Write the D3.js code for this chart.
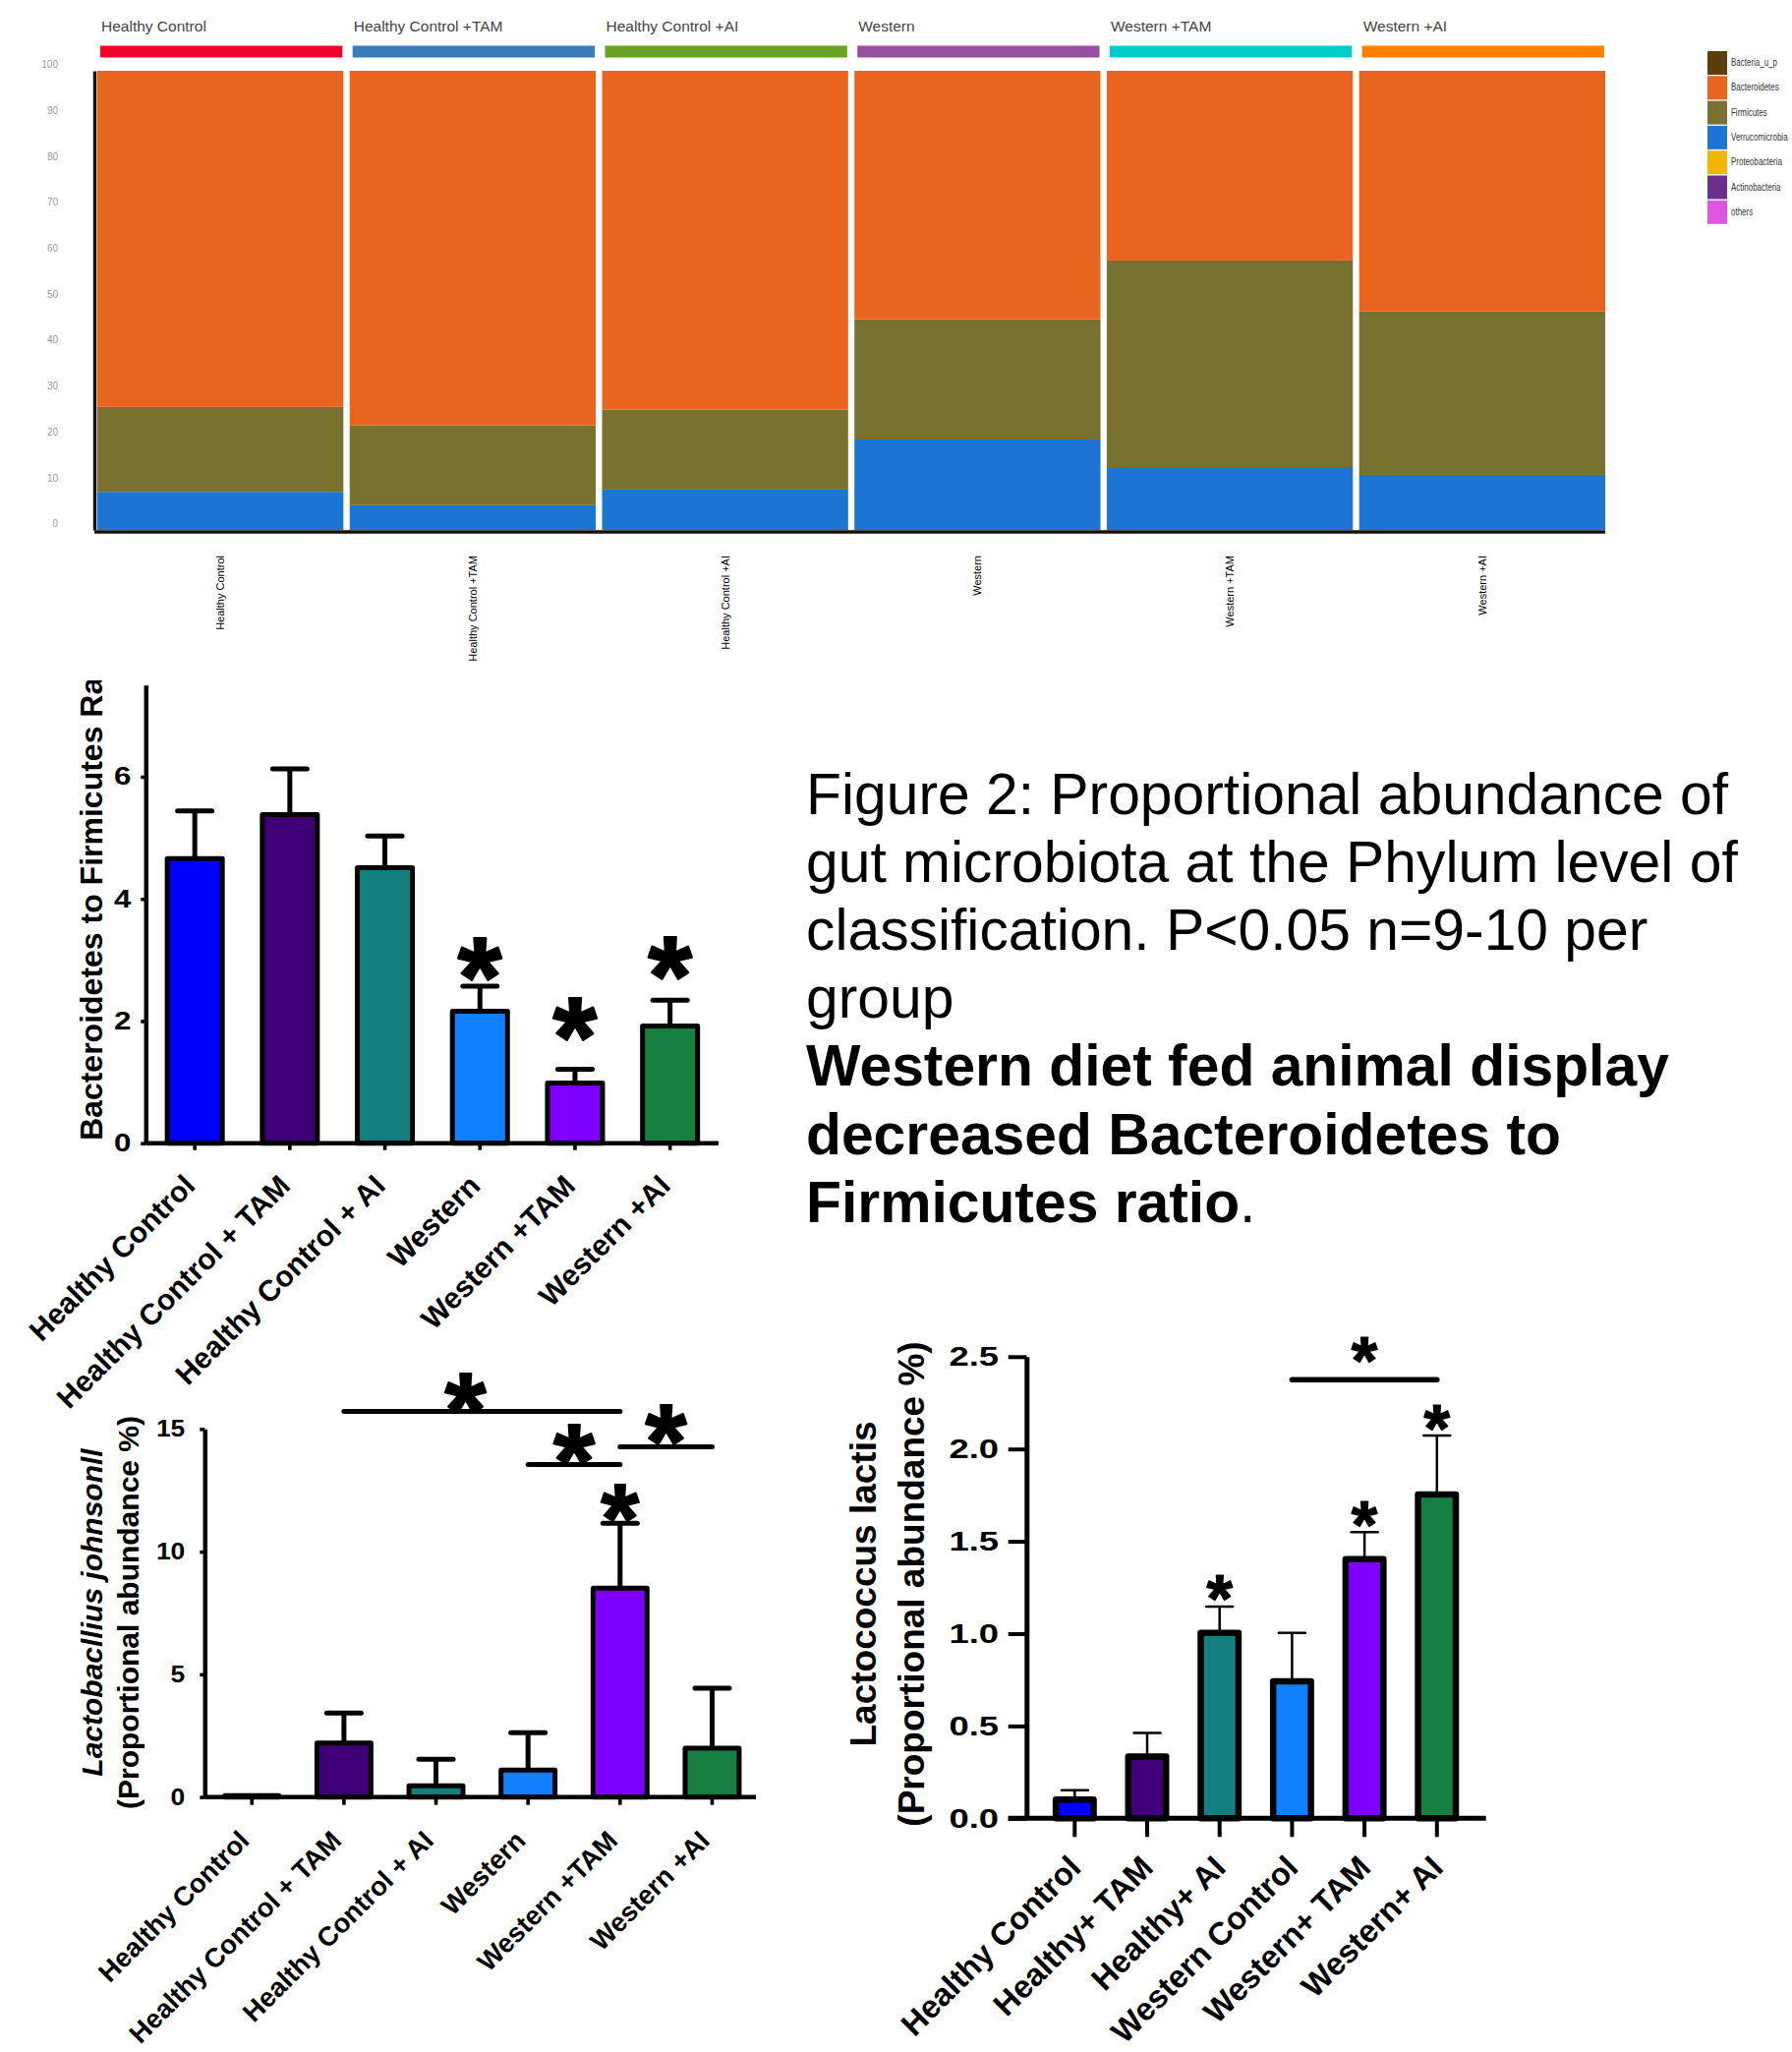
<html>
<head>
<meta charset='utf-8' />
<title>Figure 2: gut microbiota</title>
<script src="https://d3js.org/d3.v7.min.js"></script>
<style>
body { margin: 0; background: #fff; }
text { font-family: "Liberation Sans", Arial, sans-serif; }
</style>
</head>
<body>
<script>

// ---------- data : phylum level (stacked %, bottom to top)
var topGroups = ["Healthy Control", "Healthy Control +TAM", "Healthy Control +AI", "Western", "Western +TAM", "Western +AI"];
var topGroupColors = ["#f0052d", "#3b7bb8", "#66a224", "#974fa2", "#00cccc", "#ff7f00"];
var phyla = ["Bacteria_u_p", "Bacteroidetes", "Firmicutes", "Verrucomicrobia", "Proteobacteria", "Actinobacteria", "others"];
var phylaColors = ["#5c3d0c", "#e8641f", "#78712f", "#1c75d2", "#f2b600", "#6b2f8e", "#e055e0"];
var verrucoPct = [8.3, 5.4, 8.8, 19.7, 13.7, 12.0];
var firmicutesPct = [18.5, 17.4, 17.4, 26.2, 45.0, 35.6];
var bacteroidetesPct = [73.2, 77.2, 73.8, 54.1, 41.3, 52.4];
var topTicks = [0, 10, 20, 30, 40, 50, 60, 70, 80, 90, 100];

// ---------- data : Bacteroidetes / Firmicutes ratio
var ratioGroups = ["Healthy Control", "Healthy Control + TAM", "Healthy Control + AI", "Western", "Western +TAM", "Western +AI"];
var ratioMean = [4.66, 5.38, 4.51, 2.16, 0.985, 1.92];
var ratioUpper = [5.44, 6.13, 5.03, 2.57, 1.21, 2.34];   // mean + SEM
var ratioStars = [null, null, null, 3.07, 2.08, 3.08];
var ratioTicks = [0, 2, 4, 6];

// ---------- data : Lactobacillus johnsonii
var johnGroups = ["Healthy Control", "Healthy Control + TAM", "Healthy Control + AI", "Western", "Western +TAM", "Western +AI"];
var johnMean = [0.06, 2.2, 0.46, 1.1, 8.51, 1.99];
var johnUpper = [null, 3.42, 1.54, 2.62, 11.16, 4.44];
var johnStars = [null, null, null, null, 12.07, null];
var johnSig = [
	{from: 1, to: 4, y: 15.71, star: 16.58, at: 0.44},
	{from: 3, to: 4, y: 13.55, star: 14.5, at: 0.5},
	{from: 4, to: 5, y: 14.27, star: 15.32, at: 0.5}
];
var johnTicks = [0, 5, 10, 15];

// ---------- data : Lactococcus lactis
var lactGroups = ["Healthy Control", "Healthy+ TAM", "Healthy+ AI", "Western Control", "Western+ TAM", "Western+ AI"];
var lactMean = [0.102, 0.335, 1.004, 0.742, 1.404, 1.753];
var lactUpper = [0.152, 0.462, 1.146, 1.004, 1.55, 2.073];
var lactStars = [null, null, 1.26, null, 1.66, 2.18];
var lactSig = [{from: 3, to: 5, y: 2.375, star: 2.545, at: 0.5}];
var lactTicks = [0, 0.5, 1.0, 1.5, 2.0, 2.5];

var barColors = ["#0000ff", "#3f0078", "#13807f", "#1180ff", "#8000ff", "#178040"];

var captionLines = ["Figure 2: Proportional abundance of", "gut microbiota at the Phylum level of", "classification. P<0.05 n=9-10 per", "group"];
var captionBold = ["Western diet fed animal display", "decreased Bacteroidetes to", "Firmicutes ratio"];


var svg = d3.select("body").append("svg")
	.attr("width", 1823)
	.attr("height", 2087);

svg.append("rect").attr("width", 1823).attr("height", 2087).attr("fill", "#fff");

// ===================== stacked phylum chart =====================
var xTop = d3.scaleBand().domain(topGroups).range([99, 1633]).paddingInner(0.025);
var yTop = d3.scaleLinear().domain([0, 100]).range([539, 72]);

var topRows = topGroups.map(function(g, i) {
	var r = {group: g};
	phyla.forEach(function(p) { r[p] = 0; });
	r["Verrucomicrobia"] = verrucoPct[i];
	r["Firmicutes"] = firmicutesPct[i];
	r["Bacteroidetes"] = bacteroidetesPct[i];
	return r;
});
var stackOrder = ["Verrucomicrobia", "Firmicutes", "Bacteroidetes", "Proteobacteria", "Actinobacteria", "Bacteria_u_p", "others"];
var stacked = d3.stack().keys(stackOrder)(topRows);

var phylumChart = svg.append("g");
phylumChart.selectAll("g.layer").data(stacked).join("g")
	.attr("fill", function(d) { return phylaColors[phyla.indexOf(d.key)]; })
	.selectAll("rect").data(function(d) { return d; }).join("rect")
	.attr("x", function(d) { return xTop(d.data.group); })
	.attr("width", xTop.bandwidth())
	.attr("y", function(d) { return yTop(d[1]); })
	.attr("height", function(d) { return yTop(d[0]) - yTop(d[1]); });

// group header strips
phylumChart.selectAll("rect.head").data(topGroups).join("rect")
	.attr("class", "head")
	.attr("x", function(d) { return xTop(d) + 3; })
	.attr("width", xTop.bandwidth() - 4)
	.attr("y", 46.5)
	.attr("height", 12)
	.attr("fill", function(d, i) { return topGroupColors[i]; });
phylumChart.selectAll("text.head").data(topGroups).join("text")
	.attr("class", "head")
	.attr("x", function(d) { return xTop(d) + 4; })
	.attr("y", 32)
	.attr("font-size", 15.5)
	.attr("fill", "#444")
	.text(function(d) { return d; });

var topY = phylumChart.append("g").attr("transform", "translate(96,0)")
	.call(d3.axisLeft(yTop).tickValues(topTicks).tickSize(0).tickPadding(37).tickSizeOuter(0));
topY.attr("font-family", null).attr("font-size", null);
topY.select(".domain").attr("stroke", "#111").attr("stroke-width", 3.5);
topY.selectAll("text").attr("font-size", 10).attr("fill", "#999").attr("dy", -3.3);

var topX = phylumChart.append("g").attr("transform", "translate(0,541)")
	.call(d3.axisBottom(xTop).tickSize(0).tickSizeOuter(0));
topX.attr("font-family", null).attr("font-size", null);
topX.select(".domain").attr("stroke", "#111").attr("stroke-width", 3.5).attr("d", "M96,0H1633");
topX.selectAll("text")
	.attr("font-family", "'Liberation Serif', serif")
	.attr("font-size", 11)
	.attr("fill", "#000")
	.attr("text-anchor", "end")
	.attr("y", 0).attr("dy", 0)
	.attr("transform", "translate(4,24) rotate(-90)");

// legend (narrow type so the names stay inside the page)
var leg = svg.append("g");
leg.selectAll("rect").data(phyla).join("rect")
	.attr("x", 1737).attr("y", function(d, i) { return 52 + i * 25.3; })
	.attr("width", 20).attr("height", 24)
	.attr("fill", function(d, i) { return phylaColors[i]; });
leg.selectAll("text").data(phyla).join("text")
	.attr("transform", function(d, i) { return "translate(1761," + (52 + i * 25.3 + 15) + ") scale(0.76,1)"; })
	.attr("font-size", 10.5).attr("fill", "#333")
	.text(function(d) { return d; });


// ===================== bar panels =====================
function stretchText(sel, sx) {
	sel.each(function() {
		var t = d3.select(this);
		var xx = +t.attr("x") || 0;
		t.attr("x", null).attr("transform", "translate(" + xx + ",0) scale(" + sx + ",1)");
	});
}

function addStar(g, x, y, size) {
	g.append("text")
		.attr("x", x)
		.attr("y", y + size * 0.53)
		.attr("text-anchor", "middle").attr("font-weight", "bold").attr("font-size", size)
		.attr("stroke", "#000").attr("stroke-width", size * 0.018).attr("stroke-linejoin", "round")
		.text("*");
}

function barPanel(p) {
	var x = d3.scaleBand().domain(p.groups).range(p.xRange).paddingInner(p.padIn).paddingOuter(p.padOut);
	var y = d3.scaleLinear().domain([0, p.yMax]).range(p.yRange);
	var cx = function(i) { return x(p.groups[i]) + x.bandwidth() / 2; };
	var g = svg.append("g");

	// error bars (upper only)
	var eb = p.groups.map(function(d, i) { return i; }).filter(function(i) { return p.upper[i] != null; });
	g.selectAll("line.err").data(eb).join("line")
		.attr("x1", cx).attr("x2", cx)
		.attr("y1", function(i) { return y(p.mean[i]); })
		.attr("y2", function(i) { return y(p.upper[i]); })
		.attr("stroke", "#000").attr("stroke-width", p.errW);
	g.selectAll("line.cap").data(eb).join("line")
		.attr("x1", function(i) { return cx(i) - p.capW / 2; })
		.attr("x2", function(i) { return cx(i) + p.capW / 2; })
		.attr("y1", function(i) { return y(p.upper[i]); })
		.attr("y2", function(i) { return y(p.upper[i]); })
		.attr("stroke", "#000").attr("stroke-width", p.capStroke).attr("stroke-linecap", "round");

	// bars
	g.selectAll("rect").data(p.mean).join("rect")
		.attr("x", function(d, i) { return x(p.groups[i]) + p.barStroke / 2; })
		.attr("width", x.bandwidth() - p.barStroke)
		.attr("y", function(d) { return y(d); })
		.attr("height", function(d) { return y(0) - y(d); })
		.attr("fill", function(d, i) { return barColors[i]; })
		.attr("stroke", "#000").attr("stroke-width", p.barStroke).attr("stroke-linejoin", "round");

	// y axis
	var ay = g.append("g").attr("transform", "translate(" + p.xRange[0] + ",0)")
		.call(d3.axisLeft(y).tickValues(p.ticks).tickFormat(p.fmt).tickSize(p.yTick).tickPadding(p.tickPad).tickSizeOuter(0));
	ay.attr("font-family", null).attr("font-size", null);
	ay.select(".domain").attr("stroke", "#000").attr("stroke-width", p.axisW);
	ay.selectAll(".tick line").attr("stroke", "#000").attr("stroke-width", p.axisW * 0.8);
	ay.selectAll("text").attr("font-size", p.tickFont).attr("font-weight", "bold").attr("fill", "#000");
	stretchText(ay.selectAll("text"), p.tickSx);

	// x axis
	var ax = g.append("g").attr("transform", "translate(0," + y(0) + ")")
		.call(d3.axisBottom(x).tickSize(p.xTick).tickSizeOuter(0));
	ax.attr("font-family", null).attr("font-size", null);
	ax.select(".domain").attr("stroke", "#000").attr("stroke-width", p.axisW)
		.attr("d", "M" + (p.xRange[0] - p.axisExtend) + ",0H" + p.xEnd);
	ax.selectAll(".tick line").attr("stroke", "#000").attr("stroke-width", p.axisW * 0.8);
	ax.selectAll("text")
		.attr("font-size", p.labelFont).attr("font-weight", "bold").attr("fill", "#000")
		.attr("text-anchor", "end").attr("y", 0).attr("dy", 0)
		.attr("transform", "translate(" + p.labelOff[0] + "," + p.labelOff[1] + ") rotate(-45)");

	// stars above bars
	p.stars.forEach(function(s, i) {
		if (s != null) addStar(g, cx(i), y(s), p.starFont);
	});

	// significance brackets
	(p.sig || []).forEach(function(s) {
		var x1 = cx(s.from), x2 = cx(s.to);
		g.append("line").attr("x1", x1).attr("x2", x2).attr("y1", y(s.y)).attr("y2", y(s.y))
			.attr("stroke", "#000").attr("stroke-width", p.sigW).attr("stroke-linecap", "round");
		addStar(g, x1 + (x2 - x1) * s.at, y(s.star), p.sigStarFont || p.starFont);
	});
	return g;
}

// ---- ratio panel
barPanel({
	groups: ratioGroups, mean: ratioMean, upper: ratioUpper, stars: ratioStars,
	xRange: [148.3, 731.5], xEnd: 731, axisExtend: 0, padIn: 0.369, padOut: 0.2,
	yMax: 7.5, yRange: [1162.7, 696.8], ticks: ratioTicks, fmt: d3.format("d"),
	yTick: 5, xTick: 7, tickPad: 10, tickFont: 25, tickSx: 1.25, axisW: 4.5,
	barStroke: 5, errW: 5, capW: 35, capStroke: 5,
	labelFont: 30, labelOff: [2, 45], starFont: 115
});
svg.append("clipPath").attr("id", "ratioClip")
	.append("rect").attr("x", 0).attr("y", 692).attr("width", 400).attr("height", 600);
svg.append("g").attr("clip-path", "url(#ratioClip)")
	.append("text")
	.attr("transform", "translate(104,1160) rotate(-90)")
	.attr("font-size", 32).attr("font-weight", "bold")
	.text("Bacteroidetes to Firmicutes Ratio");

// ---- Lactobacillus johnsonii panel
barPanel({
	groups: johnGroups, mean: johnMean, upper: johnUpper, stars: johnStars, sig: johnSig,
	xRange: [208.3, 772.4], xEnd: 769, axisExtend: 0, padIn: 0.36, padOut: 0.192,
	yMax: 15, yRange: [1827.7, 1453.3], ticks: johnTicks, fmt: d3.format("d"),
	yTick: 5, xTick: 8, tickPad: 15, tickFont: 24, tickSx: 1.1, axisW: 4.5,
	barStroke: 5, errW: 5, capW: 35, capStroke: 5,
	labelFont: 27.3, labelOff: [-1, 46], starFont: 100, sigStarFont: 108, sigW: 5
});
svg.append("text")
	.attr("transform", "translate(104,1640) rotate(-90)")
	.attr("text-anchor", "middle").attr("font-size", 30).attr("font-weight", "bold").attr("font-style", "italic")
	.text("Lactobacllius johnsonll");
svg.append("text")
	.attr("transform", "translate(140.5,1640) rotate(-90)")
	.attr("text-anchor", "middle").attr("font-size", 30).attr("font-weight", "bold")
	.text("(Proportional abundance %)");

// ---- Lactococcus lactis panel
barPanel({
	groups: lactGroups, mean: lactMean, upper: lactUpper, stars: lactStars, sig: lactSig,
	xRange: [1044.3, 1510.8], xEnd: 1511.7, axisExtend: 18.6, padIn: 0.39, padOut: 0.36,
	yMax: 2.5, yRange: [1849.3, 1379.8], ticks: lactTicks, fmt: d3.format(".1f"),
	yTick: 18.6, xTick: 19, tickPad: 9.7, tickFont: 28, tickSx: 1.3, axisW: 5,
	barStroke: 6.5, errW: 2.5, capW: 27, capStroke: 2.5,
	labelFont: 32.5, labelOff: [8, 52], starFont: 68, sigW: 5.5
});
svg.append("text")
	.attr("transform", "translate(891,1611) rotate(-90)")
	.attr("text-anchor", "middle").attr("font-size", 37).attr("font-weight", "bold")
	.text("Lactococcus lactis");
svg.append("text")
	.attr("transform", "translate(940,1611) rotate(-90)")
	.attr("text-anchor", "middle").attr("font-size", 37).attr("font-weight", "bold")
	.text("(Proportional abundance %)");

// ===================== caption =====================
var cap = svg.append("g").attr("font-size", 58.8).attr("fill", "#000");
captionLines.forEach(function(t, i) {
	cap.append("text").attr("x", 820).attr("y", 828 + i * 69.1).text(t);
});
captionBold.forEach(function(t, i) {
	var line = cap.append("text").attr("x", 820).attr("y", 828 + (i + 4) * 69.1);
	line.append("tspan").attr("font-weight", "bold").text(t);
	if (i == captionBold.length - 1) line.append("tspan").text(".");
});

</script>
</body>
</html>
